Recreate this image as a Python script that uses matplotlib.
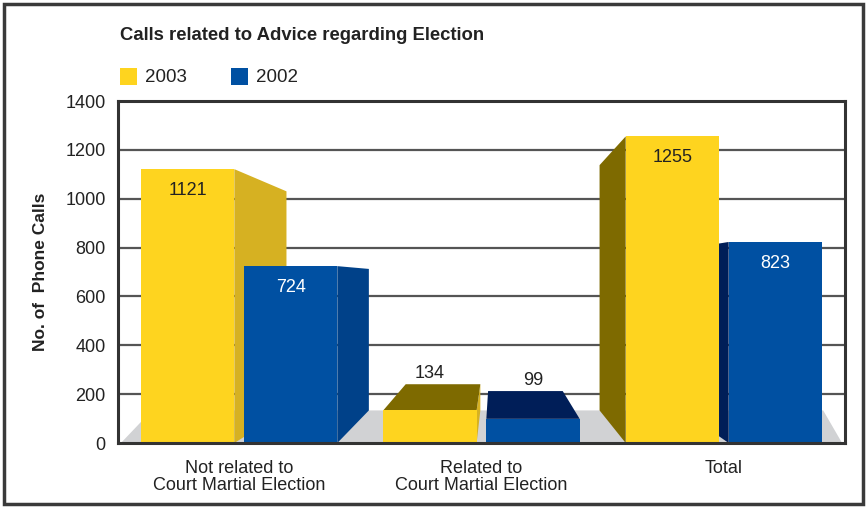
import matplotlib
matplotlib.use("Agg")
import matplotlib.pyplot as plt
from matplotlib.patches import Polygon, Rectangle
import numpy as np

plt.rcParams['font.family'] = ['Liberation Sans', 'DejaVu Sans']

# ---- data ----
categories = ["Not related to\nCourt Martial Election",
              "Related to\nCourt Martial Election",
              "Total"]
series_names = ["2003", "2002"]
values_2003 = [1121, 134, 1255]
values_2002 = [724, 99, 823]
yticks = [0, 200, 400, 600, 800, 1000, 1200, 1400]
title = "Calls related to Advice regarding Election"
ylabel = "No. of  Phone Calls"

# ---- style ----
front = {"2003": "#FED41F", "2002": "#0050A2"}
side_light = {"2003": "#D6B122", "2002": "#004189"}
side_dark = {"2003": "#7E6A00", "2002": "#001E58"}
label_col = {"2003": "#222222", "2002": "#FFFFFF"}
floor_col = "#D1D2D4"
grid_col = "#555555"
frame_col = "#333333"

W, H = 867, 508
fig = plt.figure(figsize=(W / 100, H / 100), dpi=100)
ax = fig.add_axes([118 / W, 1 - 443 / H, (845 - 118) / W, (443 - 101) / H])
ax.set_xlim(-0.5, 2.5)
ax.set_ylim(0, 1400)

# perspective (vanishing point) in data coords
vpx, vpy = 1.056, 667.0
depth = 0.2
k = 1 - depth

def back(x, y):
    return vpx + k * (x - vpx), vpy + k * (y - vpy)

# gridlines
for t in yticks[1:-1]:
    ax.axhline(t, color=grid_col, lw=1.6, zorder=1)

# floor
bx_l, by = back(-0.5, 0)
floor = Polygon([(-0.488, 0), (2.488, 0), (2.41, by), (-0.36, by)],
                closed=True, facecolor=floor_col, edgecolor='none', zorder=2)
ax.add_patch(floor)

bw = 0.385
off = 0.2125
bars = []
for i in range(len(categories)):
    bars.append((i - off, values_2003[i], "2003"))
    bars.append((i + off, values_2002[i], "2002"))

# draw far (from vanishing point) first
bars_sorted = sorted(bars, key=lambda b: -abs(b[0] - vpx))
z = 3
for xc, h, s in bars_sorted:
    x0, x1 = xc - bw / 2, xc + bw / 2
    bx0, bh = back(x0, h)
    bx1, _ = back(x1, h)
    _, b0 = back(x0, 0)
    if x1 < vpx:
        ax.add_patch(Polygon([(x1, 0), (x1, h), (bx1, bh), (bx1, b0)],
                             facecolor=side_light[s], edgecolor='none', zorder=z))
    if x0 > vpx:
        ax.add_patch(Polygon([(x0, 0), (x0, h), (bx0, bh), (bx0, b0)],
                             facecolor=side_dark[s], edgecolor='none', zorder=z))
    if h < vpy:
        ax.add_patch(Polygon([(x0, h), (x1, h), (bx1, bh), (bx0, bh)],
                             facecolor=side_dark[s], edgecolor='none', zorder=z))
    ax.add_patch(Rectangle((x0, 0), bw, h, facecolor=front[s],
                           edgecolor='none', zorder=z + 0.5))
    # value label
    if h < vpy:
        _, ty = back(x0, h)
        ax.text(xc, ty + 8, f"{h}", ha='center', va='bottom', fontsize=13,
                color="#222222", zorder=10)
    else:
        ax.text(xc, h - 88, f"{h}", ha='center', va='center', fontsize=13,
                color=label_col[s], zorder=10)
    z += 1

# frame
for sp in ax.spines.values():
    sp.set_color(frame_col)
    sp.set_linewidth(2.2)
    sp.set_zorder(20)

ax.set_yticks(yticks)
ax.set_yticklabels([str(t) for t in yticks], fontsize=13, color="#222222")
ax.tick_params(axis='y', length=0, pad=9)
ax.set_xticks(range(len(categories)))
ax.set_xticklabels(categories, fontsize=13, color="#222222", linespacing=1.03)
ax.tick_params(axis='x', length=0, pad=12)
ax.set_ylabel(ylabel, fontsize=12.5, fontweight='bold', color="#222222", labelpad=12)

fig.text(120 / W, 1 - 35 / H, title, fontsize=13.3, fontweight='bold',
         color="#222222", ha='left', va='center')

# legend
for j, s in enumerate(series_names):
    lx = [120, 231][j]
    fig.patches.append(Rectangle((lx / W, 1 - 85 / H), 17 / W, 17 / H,
                                 transform=fig.transFigure, facecolor=front[s],
                                 edgecolor='none'))
    fig.text((lx + 25) / W, 1 - 78 / H, s, fontsize=13.5, color="#222222",
             ha='left', va='center')

# outer border
fig.patches.append(Rectangle((4 / W, 4 / H), (W - 8) / W, (H - 8) / H,
                             transform=fig.transFigure, facecolor='none',
                             edgecolor="#3a3a3a", linewidth=2.5))

fig.savefig("out.png", dpi=100)
